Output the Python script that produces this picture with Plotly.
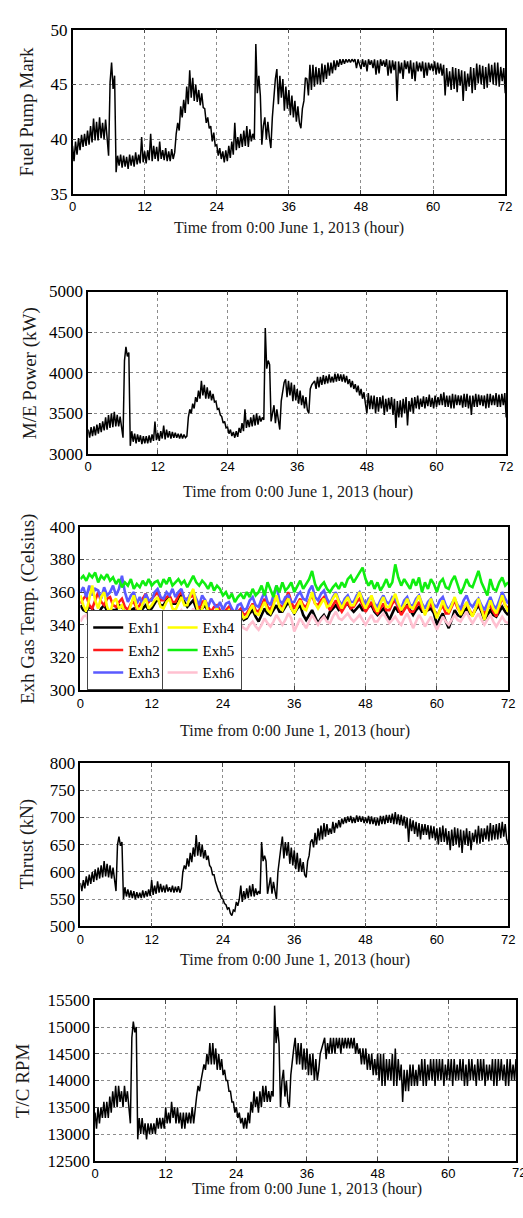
import plotly.graph_objects as go

# ---------------- data ----------------
hours = [i * 0.25 for i in range(289)]          # 0 .. 72 h, 0.25 h step
hours_exh = [i * 0.5 for i in range(145)]       # 0 .. 72 h, 0.5 h step

fuel_pump_mark = [
    39.4, 38.0, 39.8, 38.6, 40.1, 39.0, 40.4, 39.3, 40.5, 39.4, 40.8, 39.5,
    41.2, 39.7, 41.9, 39.9, 41.6, 39.9, 42.0, 40.1, 41.5, 40.0, 41.8, 40.2,
    38.5, 45.2, 47.0, 44.6, 45.8, 37.0, 38.5, 37.6, 38.6, 37.4, 38.5, 37.5,
    38.4, 37.3, 38.6, 37.6, 38.5, 37.5, 38.8, 37.7, 38.6, 37.8, 40.2, 37.9,
    38.9, 37.8, 39.0, 38.1, 40.5, 38.0, 39.4, 38.2, 39.3, 38.0, 39.8, 38.2,
    39.0, 38.1, 39.2, 38.0, 38.9, 38.0, 39.1, 38.2, 38.8, 40.5, 41.5, 40.8,
    43.0, 42.0, 43.6, 42.4, 44.8, 43.2, 46.3, 43.8, 45.6, 43.5, 45.0, 43.4,
    44.5, 43.1, 44.2, 42.9, 42.8, 41.5, 42.0, 41.0, 41.2, 39.8, 40.6, 39.4,
    39.5, 38.5, 39.2, 38.2, 38.9, 37.9, 39.0, 38.0, 39.4, 38.3, 39.8, 38.6,
    41.5, 39.0, 40.2, 39.2, 40.5, 39.3, 40.8, 39.4, 41.2, 39.3, 40.9, 39.8,
    40.5, 40.0, 48.7, 44.2, 45.8, 44.0, 39.5, 41.2, 42.0, 40.0, 41.6, 40.2,
    39.2, 42.0, 43.8, 45.5, 46.4, 43.2, 45.8, 43.8, 45.5, 42.6, 44.8, 42.8,
    44.5, 42.2, 44.0, 42.0, 43.5, 41.6, 43.0, 41.5, 41.0, 42.8, 43.5, 45.6,
    45.5, 44.0, 46.8, 44.5, 46.8, 44.8, 46.6, 45.0, 46.5, 45.0, 46.9, 45.2,
    46.8, 45.5, 47.0, 45.8, 47.0, 46.0, 47.2, 46.3, 47.2, 46.6, 47.3, 46.8,
    47.3, 46.9, 47.3, 47.0, 47.3, 47.0, 47.3, 47.1, 47.3, 46.5, 47.3, 46.9,
    46.4, 47.3, 46.6, 47.2, 46.2, 47.3, 46.8, 47.2, 46.5, 47.3, 45.9, 47.2,
    46.0, 47.3, 46.7, 47.2, 46.6, 47.3, 45.8, 47.2, 46.0, 47.2, 46.3, 47.1,
    43.5, 47.1, 46.0, 47.0, 45.5, 47.2, 46.4, 47.1, 46.0, 47.2, 45.5, 47.0,
    45.3, 47.1, 46.2, 47.0, 46.2, 47.1, 45.6, 47.0, 45.8, 47.0, 46.3, 46.9,
    46.2, 47.1, 45.9, 47.0, 46.0, 46.9, 45.8, 46.8, 44.0, 46.5, 44.8, 46.2,
    44.5, 46.6, 44.6, 46.5, 44.3, 46.4, 44.9, 46.3, 43.5, 46.2, 44.4, 46.0,
    44.8, 46.6, 44.2, 46.5, 44.5, 46.9, 45.1, 46.8, 45.0, 46.7, 44.6, 46.6,
    44.7, 46.9, 45.2, 46.8, 45.0, 47.0, 44.9, 47.0, 44.8, 46.6, 45.3, 46.5,
    44.2,
]

me_power_kw = [
    3300, 3200, 3330, 3220, 3340, 3230, 3360, 3250, 3380, 3270, 3400, 3290,
    3450, 3300, 3480, 3320, 3500, 3330, 3520, 3340, 3480, 3340, 3460, 3350,
    3200, 4150, 4320, 4200, 4250, 3100, 3280, 3150, 3250, 3130, 3240, 3150,
    3230, 3120, 3220, 3130, 3220, 3130, 3230, 3140, 3240, 3160, 3400, 3170,
    3260, 3160, 3280, 3190, 3350, 3180, 3300, 3200, 3280, 3190, 3270, 3200,
    3260, 3200, 3250, 3190, 3250, 3190, 3240, 3200, 3220, 3450, 3550, 3500,
    3620, 3560, 3700, 3640, 3780, 3680, 3900, 3720, 3850, 3680, 3820, 3680,
    3780, 3660, 3740, 3640, 3650, 3550, 3560, 3480, 3460, 3380, 3400, 3320,
    3330, 3250, 3300, 3220, 3270, 3200, 3280, 3210, 3320, 3260, 3380, 3280,
    3550, 3320, 3420, 3330, 3450, 3340, 3480, 3350, 3500, 3360, 3470, 3400,
    3450, 3420, 4550, 4050, 4150, 4100, 3400, 3500, 3600, 3380, 3550, 3420,
    3300, 3650, 3750, 3880, 3920, 3700, 3900, 3720, 3880, 3650, 3850, 3660,
    3800, 3620, 3780, 3600, 3720, 3560, 3700, 3540, 3500, 3800, 3850, 3880,
    3900, 3800, 3950, 3820, 3950, 3850, 3970, 3860, 3960, 3870, 3980, 3880,
    3950, 3880, 3990, 3890, 3990, 3900, 3980, 3890, 3980, 3880, 3960, 3860,
    3920, 3820, 3900, 3800, 3860, 3760, 3840, 3720, 3800, 3680, 3760, 3620,
    3500, 3750, 3550, 3720, 3550, 3720, 3500, 3700, 3520, 3700, 3560, 3720,
    3480, 3680, 3520, 3690, 3550, 3700, 3480, 3680, 3320, 3650, 3450, 3660,
    3450, 3680, 3500, 3700, 3350, 3650, 3520, 3690, 3500, 3700, 3560, 3720,
    3550, 3680, 3580, 3710, 3560, 3700, 3590, 3730, 3580, 3690, 3560, 3720,
    3580, 3700, 3600, 3740, 3600, 3760, 3580, 3720, 3580, 3720, 3560, 3740,
    3560, 3730, 3600, 3720, 3600, 3720, 3570, 3740, 3580, 3740, 3560, 3720,
    3480, 3720, 3580, 3740, 3580, 3730, 3600, 3720, 3590, 3720, 3560, 3740,
    3570, 3740, 3600, 3720, 3600, 3750, 3580, 3730, 3580, 3740, 3600, 3750,
    3450,
]

thrust_kn = [
    580, 565, 585, 570, 592, 575, 595, 578, 600, 582, 605, 585,
    608, 588, 612, 590, 620, 592, 615, 590, 612, 588, 608, 585,
    565, 650, 665, 648, 655, 550, 572, 555, 568, 553, 566, 552,
    565, 550, 563, 552, 562, 552, 566, 553, 565, 555, 568, 556,
    585, 558, 575, 560, 583, 562, 578, 563, 575, 562, 577, 564,
    572, 563, 575, 562, 573, 563, 574, 562, 570, 600, 612, 605,
    625, 610, 635, 618, 645, 628, 668, 630, 655, 628, 650, 625,
    640, 622, 630, 612, 608, 595, 595, 582, 575, 565, 562, 552,
    550, 542, 540, 532, 535, 524, 520, 530, 528, 545, 538, 550,
    575, 545, 565, 550, 570, 552, 575, 555, 578, 555, 570, 558,
    565, 560, 655, 620, 630, 620, 560, 575, 590, 560, 582, 565,
    550, 600, 630, 645, 665, 625, 655, 630, 655, 615, 645, 612,
    640, 605, 635, 600, 625, 600, 618, 595, 590, 620, 630, 655,
    660, 645, 672, 650, 680, 658, 685, 660, 690, 665, 688, 668,
    680, 670, 692, 672, 690, 680, 695, 682, 698, 688, 700, 690,
    702, 692, 703, 690, 700, 690, 704, 692, 703, 692, 702, 690,
    700, 690, 703, 688, 702, 688, 700, 685, 700, 685, 703, 688,
    703, 688, 705, 690, 705, 690, 707, 688, 710, 688, 706, 686,
    705, 685, 702, 680, 700, 655, 698, 675, 695, 670, 692, 665,
    690, 660, 688, 668, 688, 668, 686, 660, 685, 662, 684, 658,
    680, 650, 682, 655, 685, 655, 680, 650, 675, 640, 678, 648,
    682, 650, 680, 645, 678, 635, 676, 650, 680, 648, 675, 640,
    672, 655, 678, 652, 685, 652, 680, 655, 680, 660, 685, 656,
    690, 658, 686, 660, 688, 660, 690, 662, 692, 665, 688, 660,
    650,
]

tc_rpm = [
    13400, 13100, 13500, 13200, 13500, 13300, 13600, 13300, 13600, 13300, 13700, 13400,
    13800, 13500, 13900, 13500, 13900, 13600, 13800, 13500, 13900, 13600, 13800, 13500,
    13200, 14800, 15100, 14900, 15000, 12900, 13300, 13000, 13300, 13000, 13200, 12900,
    13200, 13000, 13200, 13000, 13200, 13000, 13300, 13100, 13300, 13100, 13300, 13100,
    13500, 13200, 13400, 13200, 13600, 13300, 13500, 13200, 13500, 13200, 13400, 13100,
    13400, 13100, 13400, 13200, 13400, 13200, 13500, 13200, 13400, 13700, 13900, 13800,
    14000, 14200, 14300, 14200, 14500, 14300, 14700, 14300, 14700, 14300, 14600, 14200,
    14500, 14200, 14400, 14100, 14200, 14000, 14000, 13800, 13800, 13600, 13600, 13400,
    13500, 13300, 13400, 13200, 13300, 13100, 13300, 13100, 13400, 13200, 13600, 13400,
    13800, 13500, 13700, 13400, 13800, 13500, 13900, 13600, 13900, 13600, 13800, 13600,
    13800, 13700, 15400, 14700, 15000, 14700, 13500, 14000, 14200, 13700, 14000, 13600,
    13500, 14100, 14400, 14600, 14800, 14300, 14700, 14300, 14700, 14200, 14600, 14200,
    14600, 14100, 14500, 14100, 14500, 14000, 14400, 14000, 14200, 14500, 14600, 14700,
    14800, 14400, 14700, 14500, 14800, 14500, 14800, 14500, 14800, 14600, 14800, 14500,
    14800, 14600, 14800, 14600, 14800, 14600, 14800, 14600, 14800, 14500, 14700, 14500,
    14600, 14300, 14600, 14300, 14600, 14200, 14500, 14200, 14500, 14100, 14400, 14100,
    14500, 14000, 14500, 13900, 14500, 13900, 14400, 14000, 14400, 14000, 14500, 13900,
    14600, 13900, 14400, 14000, 14300, 13600, 14200, 13800, 14200, 13800, 14300, 13900,
    14300, 13900, 14200, 13900, 14300, 14000, 14400, 13900, 14400, 13900, 14300, 14000,
    14400, 14000, 14400, 13900, 14400, 14000, 14400, 14000, 14400, 13900, 14300, 14000,
    14400, 14000, 14400, 13900, 14400, 14000, 14300, 14000, 14400, 14000, 14400, 13900,
    14300, 13900, 14400, 14000, 14400, 14000, 14300, 13900, 14400, 14000, 14400, 14000,
    14400, 13900, 14300, 14000, 14300, 14000, 14400, 13900, 14400, 13900, 14400, 14000,
    14400, 14000, 14300, 13900, 14400, 13900, 14400, 14000, 14300, 14000, 14400, 14000,
    14200,
]

exh1 = [352, 349, 348, 351, 350, 347, 346, 350, 352, 348, 345, 349,
        349, 352, 351, 348, 347, 349, 350, 346, 346, 350, 352, 349,
        350, 353, 356, 352, 352, 355, 357, 353, 353, 356, 358, 354,
        351, 353, 355, 350, 348, 350, 352, 348, 346, 348, 348, 345,
        343, 345, 346, 342, 342, 345, 347, 343, 344, 347, 349, 345,
        342, 346, 350, 347, 346, 349, 352, 348, 348, 351, 354, 350,
        347, 350, 352, 346, 343, 346, 349, 345, 341, 344, 346, 343,
        348, 350, 352, 349, 350, 352, 353, 350, 348, 350, 352, 349,
        349, 351, 352, 348, 346, 348, 350, 347, 343, 347, 351, 348,
        348, 350, 352, 349, 346, 349, 351, 348, 348, 349, 350, 347,
        340, 344, 347, 342, 338, 343, 349, 346, 345, 348, 350, 347,
        346, 349, 352, 348, 343, 346, 349, 346, 345, 348, 351, 348,
        346]
exh2 = [353, 356, 358, 352, 350, 355, 360, 354, 352, 356, 357, 352,
        351, 354, 356, 351, 349, 353, 354, 350, 352, 356, 359, 354,
        356, 358, 360, 355, 355, 357, 358, 354, 354, 358, 360, 356,
        356, 357, 358, 353, 350, 354, 355, 351, 348, 351, 352, 349,
        346, 349, 351, 347, 345, 348, 350, 346, 347, 350, 353, 349,
        348, 352, 356, 351, 349, 354, 357, 352, 351, 355, 360, 354,
        350, 353, 356, 352, 351, 355, 358, 353, 352, 355, 357, 353,
        349, 352, 355, 351, 348, 351, 354, 350, 351, 354, 356, 352,
        348, 351, 354, 349, 347, 350, 353, 349, 349, 353, 355, 350,
        346, 349, 352, 348, 348, 351, 354, 350, 347, 350, 353, 349,
        345, 349, 352, 347, 347, 351, 355, 350, 348, 351, 353, 349,
        346, 350, 354, 349, 347, 350, 352, 348, 345, 351, 357, 352,
        350]
exh3 = [360, 363, 357, 364, 358, 362, 361, 356, 363, 358, 360, 364,
        358, 362, 370, 360, 354, 358, 360, 353, 357, 352, 359, 355,
        355, 360, 362, 357, 356, 360, 358, 362, 357, 360, 362, 356,
        355, 359, 360, 356, 352, 358, 355, 351, 356, 353, 350, 354,
        349, 353, 354, 350, 347, 352, 353, 349, 350, 355, 357, 352,
        351, 356, 360, 354, 352, 358, 364, 355, 353, 357, 358, 354,
        354, 358, 360, 356, 355, 361, 364, 357, 355, 359, 361, 356,
        353, 357, 360, 355, 352, 356, 358, 354, 354, 358, 360, 356,
        352, 356, 357, 353, 351, 355, 358, 354, 353, 357, 356, 352,
        350, 355, 357, 352, 352, 356, 358, 353, 350, 354, 356, 352,
        351, 355, 357, 352, 349, 353, 356, 352, 350, 355, 358, 353,
        351, 354, 356, 352, 349, 353, 357, 352, 350, 355, 360, 356,
        353]
exh4 = [358, 352, 348, 356, 364, 355, 350, 357, 360, 351, 347, 354,
        356, 350, 352, 347, 346, 352, 358, 351, 348, 353, 356, 350,
        352, 355, 357, 351, 350, 354, 356, 350, 349, 353, 357, 352,
        352, 358, 362, 353, 345, 350, 355, 348, 343, 347, 350, 346,
        344, 347, 349, 345, 342, 346, 348, 344, 345, 349, 352, 347,
        346, 350, 354, 349, 347, 352, 358, 351, 349, 353, 356, 350,
        347, 351, 355, 350, 349, 354, 360, 353, 350, 353, 356, 351,
        352, 356, 359, 354, 350, 354, 357, 352, 352, 356, 360, 354,
        350, 354, 358, 352, 348, 353, 357, 351, 351, 355, 359, 353,
        349, 352, 356, 351, 350, 354, 358, 352, 346, 351, 356, 350,
        344, 349, 355, 350, 348, 352, 357, 351, 346, 350, 354, 349,
        345, 350, 356, 350, 343, 349, 355, 350, 347, 352, 358, 352,
        348]
exh5 = [368, 370, 367, 371, 369, 372, 366, 370, 368, 371, 367, 369,
        365, 368, 363, 366, 364, 368, 362, 365, 363, 367, 364, 368,
        364, 366, 367, 363, 368, 365, 369, 364, 366, 368, 365, 367,
        363, 367, 370, 366, 364, 367, 365, 362, 366, 361, 364, 362,
        358, 360, 356, 359, 354, 357, 359, 356, 360, 357, 362, 358,
        360, 364, 358, 366, 362, 357, 364, 360, 366, 361, 363, 366,
        360, 364, 367, 362, 365, 368, 373, 365, 361, 364, 366, 362,
        360, 363, 365, 362, 366, 363, 368, 370, 366, 369, 372, 375,
        368, 364, 367, 362, 366, 361, 364, 368, 363, 366, 377, 369,
        364, 368, 365, 362, 368, 364, 369, 360, 366, 362, 368, 365,
        360, 366, 368, 363, 362, 367, 370, 365, 359, 363, 368, 364,
        363, 368, 373, 366, 362, 358, 368, 362, 361, 366, 369, 364,
        366]
exh6 = [342, 345, 346, 341, 340, 344, 347, 343, 344, 346, 348, 344,
        339, 343, 345, 341, 340, 344, 347, 343, 341, 344, 346, 342,
        344, 346, 348, 345, 343, 345, 347, 344, 345, 347, 349, 346,
        343, 346, 350, 346, 341, 344, 346, 342, 339, 341, 343, 340,
        335, 337, 339, 336, 334, 337, 340, 338, 337, 340, 342, 339,
        337, 340, 344, 341, 339, 342, 346, 343, 340, 343, 347, 344,
        336, 340, 344, 341, 338, 342, 346, 343, 340, 343, 345, 342,
        341, 345, 348, 344, 343, 345, 347, 344, 342, 344, 346, 343,
        340, 343, 346, 342, 342, 345, 347, 344, 341, 343, 345, 342,
        340, 344, 347, 343, 338, 342, 346, 343, 339, 342, 345, 341,
        337, 341, 345, 342, 340, 343, 346, 343, 342, 345, 348, 344,
        341, 344, 347, 343, 340, 343, 346, 342, 339, 342, 345, 342,
        341]

exh_names = ["Exh1", "Exh2", "Exh3", "Exh4", "Exh5", "Exh6"]

x_ticks = [0, 12, 24, 36, 48, 60, 72]
fuel_ticks = [35, 40, 45, 50]
power_ticks = [3000, 3500, 4000, 4500, 5000]
exh_ticks = [300, 320, 340, 360, 380, 400]
thrust_ticks = [500, 550, 600, 650, 700, 750, 800]
rpm_ticks = [12500, 13000, 13500, 14000, 14500, 15000, 15500]

x_title = "Time from 0:00 June 1, 2013 (hour)"
y_titles = ["Fuel Pump Mark", "M/E Power (kW)", "Exh Gas Temp. (Celsius)",
            "Thrust (kN)", "T/C RPM"]

# ---------------- layout helpers ----------------
W, H = 523, 1218
SERIF = "Liberation Serif"
SANS = "Liberation Sans"

def px_x(v):
    return v / W

def px_y(v):
    return 1 - v / H

# pixel boxes of each panel: (left, right, top, bottom)
boxes = [
    (70, 512, 21, 188),
    (86, 513, 287, 452),
    (78, 515, 526, 692),
    (78, 515, 766, 932),
    (93, 523, 1007, 1170),
]
x_ranges = [[0, 72], [0, 72], [0, 72], [0, 72], [0, 72 * 430 / 433]]
y_ranges = [[35, 50], [3000, 5000], [300, 400], [500, 800], [12500, 15500]]
y_tickvals = [fuel_ticks, power_ticks, exh_ticks, thrust_ticks, rpm_ticks]
ytitle_x = [23, 26, 24, 23, 19]
xtitle_y = [222, 491, 733, 966, 1199]
xtitle_cx = [291, 300, 297, 297, 309]

fig = go.Figure()

main_series = {0: fuel_pump_mark, 1: me_power_kw, 3: thrust_kn, 4: tc_rpm}
for i, ser in main_series.items():
    sfx = "" if i == 0 else str(i + 1)
    fig.add_trace(go.Scatter(x=hours, y=ser, mode="lines",
                             line=dict(color="black", width=1.5),
                             xaxis="x" + sfx, yaxis="y" + sfx, showlegend=False))

exh_series = [exh1, exh2, exh3, exh4, exh5, exh6]
exh_colors = ["#000000", "#ff1a1a", "#5a5aff", "#ffff00", "#10ee10", "#ffc0d0"]
for k, (name, ser, col) in enumerate(zip(exh_names, exh_series, exh_colors)):
    fig.add_trace(go.Scatter(x=hours_exh, y=ser, mode="lines", name=name,
                             line=dict(color=col, width=2.6),
                             xaxis="x3", yaxis="y3",
                             legend="legend" if k < 3 else "legend2"))

annotations = []
for i in range(5):
    l, r, t, b = boxes[i]
    sfx = "" if i == 0 else str(i + 1)
    fig.layout["xaxis" + sfx] = dict(
        domain=[px_x(l), min(px_x(r), 1)], range=x_ranges[i], anchor="y" + sfx,
        tickvals=x_ticks, ticks="inside", ticklen=4, tickwidth=1,
        showline=True, linecolor="black", linewidth=1.5, mirror="ticks",
        showgrid=True, gridcolor="#8c8c8c", griddash="dot", gridwidth=1,
        zeroline=False, tickfont=dict(family=SANS, size=13, color="black"),
    )
    fig.layout["yaxis" + sfx] = dict(
        domain=[px_y(b), px_y(t)], range=y_ranges[i], anchor="x" + sfx,
        tickvals=y_tickvals[i], tickformat="d", ticks="inside", ticklen=4, tickwidth=1,
        showline=True, linecolor="black", linewidth=1.5, mirror="ticks",
        showgrid=True, gridcolor="#8c8c8c", griddash="dot", gridwidth=1,
        zeroline=False, tickfont=dict(family=SERIF, size=17, color="black"),
    )
    annotations.append(dict(text=y_titles[i], xref="paper", yref="paper",
                            x=px_x(ytitle_x[i]), y=px_y((t + b) / 2),
                            xanchor="center", yanchor="middle",
                            textangle=-90, showarrow=False,
                            font=dict(family=SERIF, size=19, color="#1a1a1a")))
    annotations.append(dict(text=x_title, xref="paper", yref="paper",
                            x=px_x(xtitle_cx[i]), y=px_y(xtitle_y[i]),
                            xanchor="center", yanchor="middle",
                            showarrow=False,
                            font=dict(family=SERIF, size=16, color="#1a1a1a")))

# the last panel's "72" tick label sits just past the picture edge (as in the reference)
annotations.append(dict(text=str(x_ticks[-1]), xref="paper", yref="paper",
                        x=px_x(93 + 433), y=px_y(1182),
                        xanchor="center", yanchor="middle", showarrow=False,
                        font=dict(family=SANS, size=13, color="black")))

legend_common = dict(bordercolor="#444444", borderwidth=1, bgcolor="white",
                     font=dict(family=SERIF, size=15, color="black"),
                     tracegroupgap=0, itemwidth=30,
                     xanchor="left", yanchor="bottom", y=px_y(692))
fig.update_layout(
    width=W, height=H, margin=dict(l=0, r=0, t=0, b=0),
    paper_bgcolor="white", plot_bgcolor="white",
    annotations=annotations,
    legend=dict(x=px_x(85), **legend_common),
    legend2=dict(x=px_x(85 + 76), **legend_common),
)

fig.write_html(
    "out.html",
    config={"displayModeBar": False},
    post_script="document.body.style.margin='0px';document.body.style.overflow='hidden';",
)
